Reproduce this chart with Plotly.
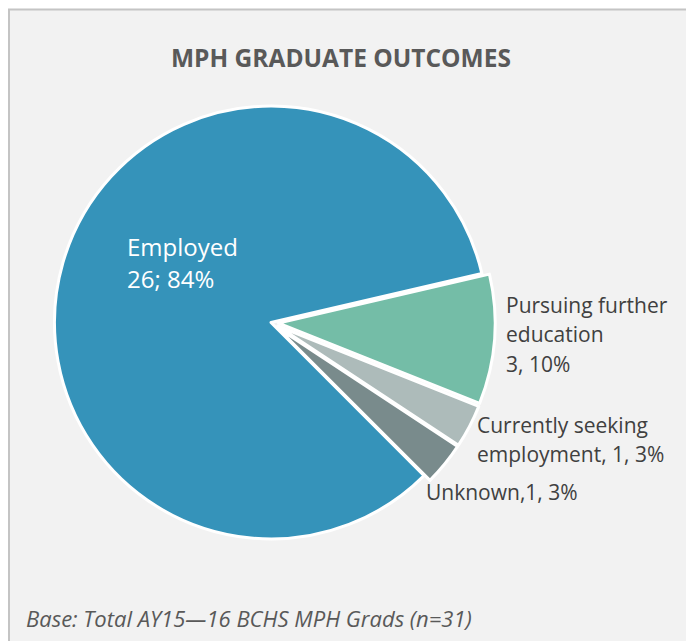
import plotly.graph_objects as go

# page body has an 8px margin, so the figure is 8px smaller and shifted
OFF = 8
W, H = 694 - OFF, 641 - OFF

categories = ["Employed", "Pursuing further education", "Currently seeking employment", "Unknown"]
counts = [26, 3, 1, 1]
percents = [84, 10, 3, 3]
colors = ["#3593BA", "#74BDA7", "#ADBBBA", "#798B8C"]
pulls = [0, 0.035, 0.035, 0.035]

label_lines = [
    ["Employed", f"{counts[0]}; {percents[0]}%"],
    ["Pursuing further", "education", f"{counts[1]}, {percents[1]}%"],
    ["Currently seeking", f"employment, {counts[2]}, {percents[2]}%"],
    [f"Unknown,{counts[3]}, {percents[3]}%"],
]

title_text = "MPH GRADUATE OUTCOMES"
footer_text = "Base: Total AY15\u201416 BCHS MPH Grads (n=31)"

# pie geometry (window pixels)
cx, cy, r = 271 - OFF, 322.5 - OFF, 216.5
half = r * (1 + max(pulls))

fig = go.Figure()
fig.add_trace(go.Pie(
    labels=categories,
    values=counts,
    sort=False,
    direction="clockwise",
    rotation=135,
    pull=pulls,
    marker=dict(colors=colors, line=dict(color="white", width=3)),
    textinfo="none",
    hoverinfo="label+value+percent",
    showlegend=False,
    domain=dict(x=[(cx - half) / W, (cx + half) / W],
                y=[(H - cy - half) / H, (H - cy + half) / H]),
))

def px(x):
    return (x - OFF) / W

def py(y):
    return (H - (y - OFF)) / H

FONT = "Open Sans"
LABEL_COLOR = "#404040"
ASC = 0.388  # baseline offset from text-box centre, in em

def line_ann(text, left, baseline, size, color, anchor="left"):
    return dict(text=text, x=px(left), y=py(baseline - ASC * size),
                xanchor=anchor, yanchor="middle", align="left",
                font=dict(family=FONT, size=size, color=color))

annotations = [line_ann(f"<b>{title_text}</b>", 340.5, 66.7, 24.5, "#595959", anchor="center")]

# label placement: (left x, first baseline, line gap, size, color)
placements = [
    (124.5, 255.7, 32.6, 24, "white"),
    (503.8, 313.3, 29.2, 21, LABEL_COLOR),
    (475.0, 433.3, 29.0, 21, LABEL_COLOR),
    (424.5, 500.0, 29.0, 21, LABEL_COLOR),
]
for lines, (lx, b0, gap, size, col) in zip(label_lines, placements):
    for i, ln in enumerate(lines):
        annotations.append(line_ann(ln, lx, b0 + i * gap, size, col))

annotations.append(line_ann(f"<i>{footer_text}</i>", 24, 626.7, 22, "#595959"))

for a in annotations:
    a.update(xref="paper", yref="paper", showarrow=False)

fig.update_layout(
    width=W, height=H,
    margin=dict(l=0, r=0, t=0, b=0),
    paper_bgcolor="white",
    plot_bgcolor="white",
    annotations=annotations,
    shapes=[dict(type="rect", xref="paper", yref="paper",
                 x0=1 / W, x1=1.05, y0=-0.05, y1=py(9.5),
                 line=dict(color="#C4C4C4", width=2), fillcolor="#F2F2F2", layer="below")],
)

fig.write_html("out.html")
